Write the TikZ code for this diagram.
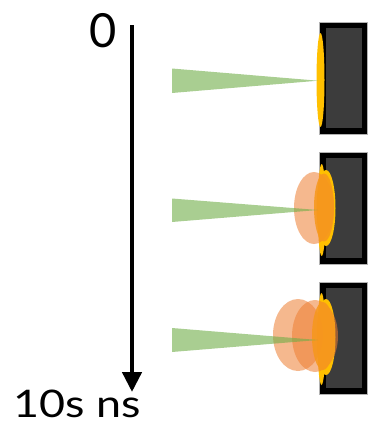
\documentclass[tikz,border=0pt]{standalone}
\usepackage{fontspec}
\setmainfont{Lato}
\newfontfamily\widelato{Lato}[FakeStretch=1.18]
\usetikzlibrary{arrows.meta}
\definecolor{frameblack}{HTML}{000000}
\definecolor{panelgray}{HTML}{3C3C3C}
\definecolor{flashyellow}{HTML}{FFC000}
\definecolor{plumeorange}{HTML}{F7981D}
\definecolor{plumesalmon}{HTML}{ED7D31}
\definecolor{beamgreen}{HTML}{70AD47}
\tikzset{
  target/.style={fill=frameblack, draw=gray!60, line width=0.4pt},
  panel/.style={fill=panelgray},
  flash/.style={fill=flashyellow},
  core/.style={fill=plumeorange, fill opacity=0.88},
  halo/.style={fill=plumesalmon, fill opacity=0.55},
  beam/.style={fill=beamgreen, fill opacity=0.6},
  label/.style={inner sep=0pt},
  timeaxis/.style={line width=4.5pt, -{Triangle[width=19pt,length=20pt]}}
}
\begin{document}
\begin{tikzpicture}[x=1pt,y=-1pt]
\useasboundingbox (0,0) rectangle (370,426);

% three targets, one per time step
\foreach \t in {22,152,282}{
  \draw[target] (319.5,\t) rectangle (367.5,\t+112);
  \fill[panel] (325.8,\t+6) rectangle (361.6,\t+106);
}

% t = 0: thin flash on the surface
\fill[flash] (320.5,80) ellipse[x radius=4, y radius=47];
\fill[beam] (172,68.5) -- (172,93) -- (318,80.7) -- cycle;

% intermediate time: expanding plume
\fill[flash] (321.7,210) ellipse[x radius=4, y radius=46];
\fill[flash] (326,208) ellipse[x radius=9.5, y radius=38];
\fill[halo] (314,208) ellipse[x radius=20, y radius=36];
\fill[core] (324,207.5) ellipse[x radius=10, y radius=34];
\fill[beam] (172,198.5) -- (172,222) -- (318,210) -- cycle;

% late time: larger plume
\fill[flash] (321.5,339) ellipse[x radius=4, y radius=46];
\fill[flash] (326,337) ellipse[x radius=9.5, y radius=38];
\fill[halo] (298,335) ellipse[x radius=25, y radius=36];
\fill[halo] (315,336) ellipse[x radius=23, y radius=36];
\fill[core] (323,336) ellipse[x radius=11, y radius=34];
\fill[beam] (172,328) -- (172,352) -- (318,340) -- cycle;

% time axis
\coordinate (tstart) at (132,25);
\coordinate (tend) at (132,392);
\draw[timeaxis] (tstart) -- (tend);
\node[label, anchor=base, font=\fontsize{47}{50}\selectfont] (tzero) at (103.5,47.5) {0};
\node[label, anchor=base, font=\widelato\fontsize{38}{42}\selectfont] (tlate) at (77.5,417) {10s ns};
\end{tikzpicture}
\end{document}
